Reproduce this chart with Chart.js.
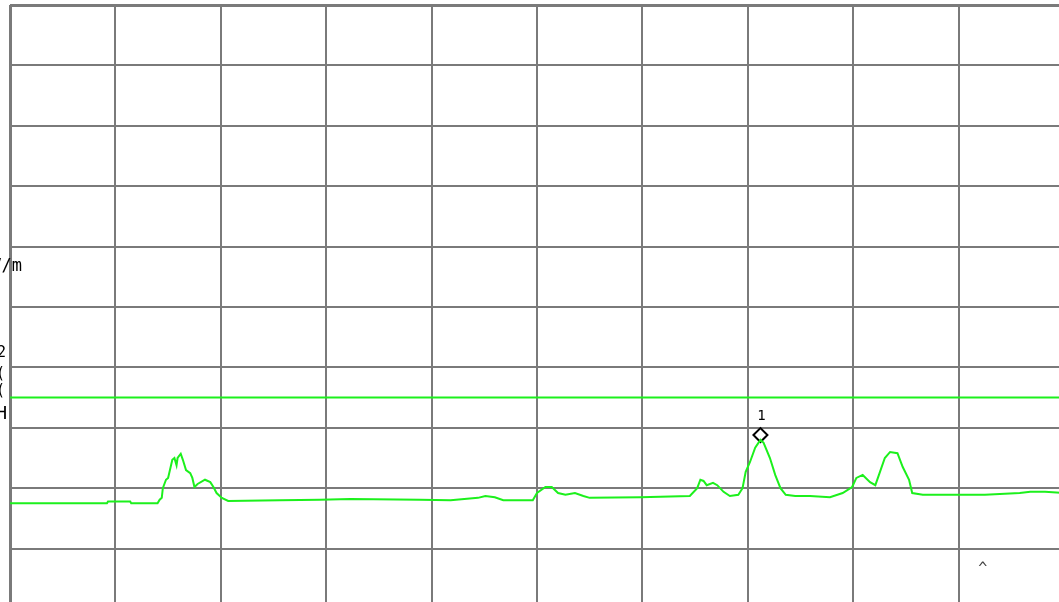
<!DOCTYPE html>
<html>
<head>
<meta charset="utf-8">
<script src="https://cdn.jsdelivr.net/npm/chart.js@4.4.1/dist/chart.umd.min.js"></script>
<style>
  html, body { margin: 0; padding: 0; background: #fff; overflow: hidden; }
  #wrap { position: absolute; left: 0; top: 0; width: 1070px; height: 616px; }
</style>
</head>
<body>
<div id="wrap"><canvas id="specChart" width="1070" height="616"></canvas></div>
<script>
// trace (x = sweep position 0..1000, y = level dBuV/m)
const freqs = [0, 92, 93, 114, 115, 140, 142, 144, 145, 148, 150, 154, 156, 158, 159, 162, 164, 167, 171, 173,
  175, 178, 185, 190, 193, 196, 201, 207, 256, 294, 323, 389, 418, 444, 451, 460, 468, 496, 500, 508,
  514, 520, 527, 536, 544, 550, 598, 645, 652, 655, 658, 661, 667, 671, 677, 683, 691, 695, 698, 702,
  707, 712, 715, 721, 726, 731, 736, 745, 759, 778, 790, 799, 803, 809, 816, 821, 825, 830, 835, 842,
  847, 853, 856, 866, 887, 901, 925, 958, 968, 982, 1000];
const levels = [17.5, 17.5, 17.8, 17.8, 17.5, 17.5, 18.1, 18.4, 20.0, 21.4, 21.7, 24.7, 25.0, 23.8, 25.0, 25.7, 24.7, 23.0, 22.5, 21.7,
  20.2, 20.7, 21.4, 21.0, 20.2, 19.2, 18.4, 17.9, 18.0, 18.1, 18.2, 18.1, 18.0, 18.4, 18.7, 18.5, 18.0, 18.0, 19.2, 20.2,
  20.2, 19.2, 18.9, 19.2, 18.7, 18.4, 18.5, 18.7, 20.0, 21.4, 21.2, 20.5, 20.9, 20.5, 19.4, 18.7, 18.9, 20.0, 22.7, 24.3,
  26.7, 28.0, 27.5, 25.0, 22.2, 20.0, 18.9, 18.7, 18.7, 18.5, 19.2, 20.2, 21.7, 22.2, 21.0, 20.5, 22.5, 25.0, 26.0, 25.8,
  23.5, 21.4, 19.2, 18.9, 18.9, 18.9, 18.9, 19.2, 19.4, 19.4, 19.2];

const limitFreqs = [0, 1000];
const limitLevels = [35, 35];

const markerFreqs = [712];
const markerLevels = [28.8];
const markerLabels = ["1"];

const caretFreq = 923;
const caretLevel = 7.9;

const toPoints = (xs, ys) => xs.map((x, i) => ({ x: x, y: ys[i] }));

const overlay = {
  id: "overlay",
  afterDatasetsDraw(chart) {
    const ctx = chart.ctx;
    const xs = chart.scales.x, ys = chart.scales.y;
    ctx.save();
    ctx.font = "14px 'DejaVu Sans Mono'";
    ctx.fillStyle = "#000";
    ctx.textAlign = "center";
    ctx.textBaseline = "bottom";
    chart.getDatasetMeta(2).data.forEach((pt, i) => {
      ctx.fillText(markerLabels[i], pt.x + 1, pt.y - 12);
    });
    ctx.fillStyle = "#444";
    ctx.textBaseline = "top";
    ctx.font = "15px 'DejaVu Sans Mono'";
    ctx.fillText("^", xs.getPixelForValue(caretFreq), ys.getPixelForValue(caretLevel));

    // labels that sit mostly outside the captured area
    ctx.fillStyle = "#000";
    ctx.textAlign = "right";
    ctx.textBaseline = "alphabetic";
    ctx.font = "17px 'DejaVu Sans Mono'";
    ctx.fillText("dBμV/m", 22, 271);
    ctx.font = "15px 'DejaVu Sans Mono'";
    ctx.fillText("12", 6, 357);
    ctx.fillText("(", 5, 378);
    ctx.fillText("(", 5, 395);
    ctx.font = "18px 'DejaVu Sans Mono'";
    ctx.fillText("AH", 7, 419);
    ctx.restore();
  }
};

const gridColor = "#7a7a7a";

new Chart(document.getElementById("specChart").getContext("2d"), {
  type: "line",
  data: {
    datasets: [
      {
        label: "Trace",
        data: toPoints(freqs, levels),
        borderColor: "#1cf01c",
        borderWidth: 2,
        pointRadius: 0,
        tension: 0,
        fill: false,
      },
      {
        label: "Limit",
        data: toPoints(limitFreqs, limitLevels),
        borderColor: "#1cf01c",
        borderWidth: 2,
        pointRadius: 0,
        fill: false,
      },
      {
        label: "Marker",
        data: toPoints(markerFreqs, markerLevels),
        showLine: false,
        pointStyle: "rectRot",
        pointRadius: 7,
        pointBackgroundColor: "#fff",
        pointBorderColor: "#000",
        pointBorderWidth: 2,
      },
    ],
  },
  options: {
    responsive: false,
    animation: false,
    layout: { autoPadding: false, padding: { left: 10, top: 5, right: 6, bottom: 7 } },
    plugins: {
      legend: { display: false },
      tooltip: { enabled: false },
    },
    scales: {
      x: {
        type: "linear",
        min: 0,
        max: 1000,
        ticks: { display: false, stepSize: 100 },
        grid: {
          color: gridColor,
          lineWidth: (c) => (c.tick && c.tick.value === 0 ? 3 : 2),
          drawTicks: false,
        },
        border: { display: false },
        afterFit: (s) => { s.height = 0; },
      },
      y: {
        min: 0,
        max: 100,
        ticks: { display: false, stepSize: 10 },
        grid: {
          color: gridColor,
          lineWidth: (c) => (c.tick && c.tick.value === 100 ? 3 : 2),
          drawTicks: false,
        },
        border: { display: false },
        afterFit: (s) => { s.width = 0; },
      },
    },
  },
  plugins: [overlay],
});
</script>
</body>
</html>
